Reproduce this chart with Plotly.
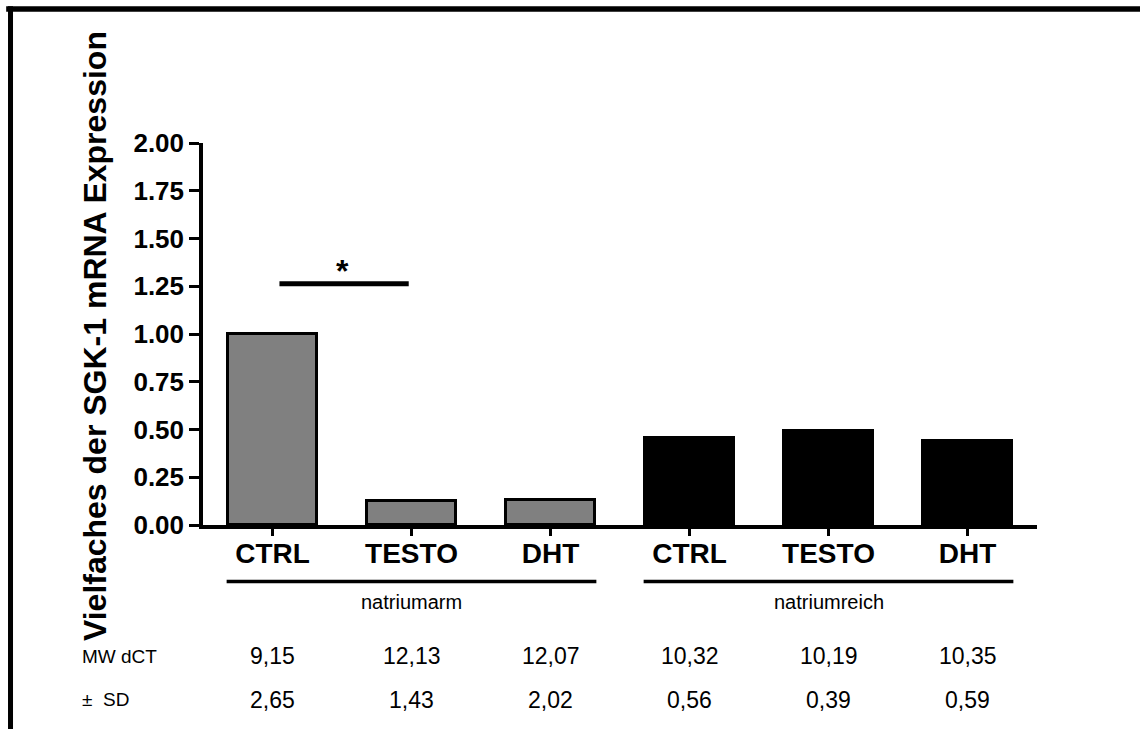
import plotly.graph_objects as go

# ---- data ----
treatments = ["CTRL", "TESTO", "DHT", "CTRL", "TESTO", "DHT"]
groups = ["natriumarm", "natriumreich"]
values_arm = [1.00, 0.125, 0.13]
values_reich = [0.455, 0.49, 0.44]
mw_dct = ["9,15", "12,13", "12,07", "10,32", "10,19", "10,35"]
sd = ["2,65", "1,43", "2,02", "0,56", "0,39", "0,59"]
y_ticks = [0, 0.25, 0.5, 0.75, 1.0, 1.25, 1.5, 1.75, 2.0]
sig_pair = (0, 1)
sig_level = 1.263

FONT = "Liberation Sans, Arial, sans-serif"
pos = list(range(len(treatments)))
pos_arm = pos[:3]
pos_reich = pos[3:]

fig = go.Figure()
fig.add_trace(go.Bar(x=pos_arm, y=values_arm, width=0.64,
                     marker=dict(color="#808080", line=dict(color="black", width=3)),
                     showlegend=False))
fig.add_trace(go.Bar(x=pos_reich, y=values_reich, width=0.64,
                     marker=dict(color="black", line=dict(color="black", width=3)),
                     showlegend=False))

shapes = []
annotations = []

# frame (top and left lines)
shapes.append(dict(type="line", xref="paper", yref="paper", x0=-0.236, x1=1.2,
                   y0=1.3508, y1=1.3508, line=dict(color="black", width=5.5)))
shapes.append(dict(type="line", xref="paper", yref="paper", x0=-0.2308, x1=-0.2308,
                   y0=1.358, y1=-0.6, line=dict(color="black", width=5)))

# significance bar
shapes.append(dict(type="line", xref="x", yref="y", x0=sig_pair[0] + 0.05, x1=sig_pair[1] - 0.02,
                   y0=sig_level, y1=sig_level, line=dict(color="black", width=5)))
annotations.append(dict(x=(sig_pair[0] + sig_pair[1]) / 2, y=1.35, xref="x", yref="y",
                        text="<b>*</b>", showarrow=False, xanchor="center", yanchor="middle",
                        yshift=-4, font=dict(family=FONT, size=32, color="black")))

# group lines and labels
for gi, g in enumerate(groups):
    x0 = gi * 3 - 0.33
    x1 = gi * 3 + 2.33
    shapes.append(dict(type="line", xref="x", yref="paper", x0=x0, x1=x1,
                       y0=-0.148, y1=-0.148, line=dict(color="black", width=3.5)))
    annotations.append(dict(x=gi * 3 + 1, y=-0.2016, xref="x", yref="paper", text=g,
                            xanchor="center", yanchor="middle",
                            showarrow=False, font=dict(family=FONT, size=20, color="black")))

# table rows
for i in pos:
    annotations.append(dict(x=i, y=-0.344, xref="x", yref="paper", text=mw_dct[i],
                            xanchor="center", yanchor="middle",
                            showarrow=False, font=dict(family=FONT, size=23, color="black")))
    annotations.append(dict(x=i, y=-0.458, xref="x", yref="paper", text=sd[i],
                            xanchor="center", yanchor="middle",
                            showarrow=False, font=dict(family=FONT, size=23, color="black")))
annotations.append(dict(x=-0.1469, y=-0.344, xref="paper", yref="paper", text="MW dCT",
                        xanchor="left", yanchor="middle",
                        showarrow=False, font=dict(family=FONT, size=19, color="black")))
annotations.append(dict(x=-0.1469, y=-0.458, xref="paper", yref="paper", text="±  SD",
                        xanchor="left", yanchor="middle",
                        showarrow=False, font=dict(family=FONT, size=19, color="black")))

# y-axis title
annotations.append(dict(x=-0.1294, y=0.4948, xref="paper", yref="paper",
                        text="<b>Vielfaches der SGK-1 mRNA Expression</b>", textangle=-90,
                        xanchor="center", yanchor="middle",
                        showarrow=False, font=dict(family=FONT, size=32, color="black")))

fig.update_layout(
    width=1140, height=729,
    margin=dict(l=203, r=103, t=143, b=204),
    paper_bgcolor="white", plot_bgcolor="white",
    bargap=0, shapes=shapes, annotations=annotations,
    xaxis=dict(range=[-0.5, 5.5], tickvals=pos, ticktext=treatments,
               showline=True, linecolor="black", linewidth=3.5,
               ticks="outside", ticklen=7, tickwidth=3, tickcolor="black",
               ticklabelstandoff=-6,
               tickfont=dict(family=FONT, size=28, color="black", weight="bold"),
               showgrid=False, zeroline=False, fixedrange=True),
    yaxis=dict(range=[0, 2], tickvals=y_ticks, tickformat=".2f",
               showline=True, linecolor="black", linewidth=3.5,
               ticks="outside", ticklen=10, tickwidth=3, tickcolor="black",
               tickfont=dict(family=FONT, size=26, color="black", weight="bold"),
               showgrid=False, zeroline=False, fixedrange=True),
)

fig.write_html(
    "out.html",
    config={"displayModeBar": False},
    post_script="document.body.style.margin='0';document.body.style.overflow='hidden';",
)
